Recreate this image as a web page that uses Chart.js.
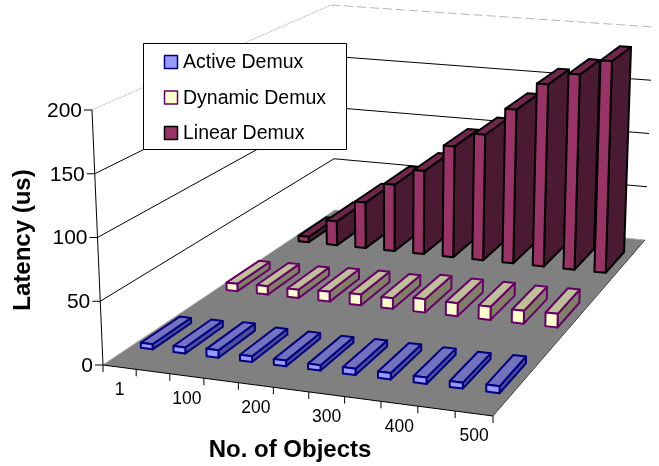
<!DOCTYPE html>
<html>
<head>
<meta charset="utf-8">
<title>Latency vs. No. of Objects</title>
<script src="https://cdn.jsdelivr.net/npm/chart.js@4"></script>
<style>
    html, body { margin: 0; padding: 0; background: #fff; }
    canvas { display: block; }
</style>
</head>
<body>
<canvas id="chart" width="659" height="466"></canvas>
<script>
const objects = ['1', '50', '100', '150', '200', '250', '300', '350', '400', '450', '500'];
const activeDemux = [4.1, 4.8, 5.8, 4.5, 4.4, 4.2, 4.9, 4.9, 4.9, 4.5, 5.3];
const dynamicDemux = [6.3, 7.2, 7.1, 8.4, 9, 8.9, 11.2, 10.9, 11, 10.7, 11.3];
const linearDemux = [5, 22, 42, 61, 76, 101, 114, 139, 164, 175, 189];

// corners of the 3D box on screen: front-left, front-right, back-right, back-left
const floorQuad = [[103, 365], [493, 416], [645, 240], [335, 210]];
const roofQuad = [[92, 110], [497, 143], [653, 27], [331, 5]];
const barDepth = 0.144;
const FONT = '"Liberation Sans", Arial, sans-serif';

function homography(q) {
    const [[x0, y0], [x1, y1], [x2, y2], [x3, y3]] = q;
    const dx1 = x1 - x2, dy1 = y1 - y2, dx2 = x3 - x2, dy2 = y3 - y2;
    const sx = x0 - x1 + x2 - x3, sy = y0 - y1 + y2 - y3;
    const den = dx1 * dy2 - dx2 * dy1;
    const g = (sx * dy2 - dx2 * sy) / den;
    const h = (dx1 * sy - sx * dy1) / den;
    const a = x1 - x0 + g * x1, b = x3 - x0 + h * x3;
    const d = y1 - y0 + g * y1, e = y3 - y0 + h * y3;
    return (u, v) => {
        const n = g * u + h * v + 1;
        return [(a * u + b * v + x0) / n, (d * u + e * v + y0) / n];
    };
}

const floorAt = homography(floorQuad);
const roofAt = homography(roofQuad);

// u along the x axis, v into the picture, w up the value axis, all 0..1
function project(u, v, w) {
    const p = floorAt(u, v), q = roofAt(u, v);
    return [p[0] + (q[0] - p[0]) * w, p[1] + (q[1] - p[1]) * w];
}

function poly(ctx, pts, fill, stroke, lineWidth) {
    ctx.beginPath();
    pts.forEach((p, i) => i ? ctx.lineTo(p[0], p[1]) : ctx.moveTo(p[0], p[1]));
    ctx.closePath();
    if (fill) { ctx.fillStyle = fill; ctx.fill(); }
    if (stroke) { ctx.strokeStyle = stroke; ctx.lineWidth = lineWidth; ctx.lineJoin = 'round'; ctx.stroke(); }
}

function line(ctx, a, b, color, dash) {
    ctx.beginPath();
    ctx.setLineDash(dash || []);
    ctx.moveTo(a[0], a[1]);
    ctx.lineTo(b[0], b[1]);
    ctx.strokeStyle = color;
    ctx.lineWidth = 1;
    ctx.stroke();
    ctx.setLineDash([]);
}

function drawBox(chart, ctx) {
    const xs = chart.scales.x, ys = chart.scales.y;
    const area = chart.chartArea;

    poly(ctx, [project(0, 0, 0), project(1, 0, 0), project(1, 1, 0), project(0, 1, 0)], '#808080');
    line(ctx, project(0, 1, 0), project(1, 1, 0), '#b0b0b0');
    line(ctx, project(0, 0, 0), project(0, 1, 0), '#a0a0a0');
    line(ctx, project(1, 0, 0), project(1, 1, 0), '#404040');

    // value axis, gridlines on both walls
    ctx.textAlign = 'right';
    ctx.textBaseline = 'middle';
    ctx.font = '21px ' + FONT;
    ctx.fillStyle = '#000';
    ys.ticks.forEach(t => {
        const w = (ys.getPixelForValue(t.value) - area.bottom) / (area.top - area.bottom);
        const front = project(0, 0, w), back = project(0, 1, w), right = project(1, 1, w);
        if (w > 0) {
            const top = w >= 1;
            line(ctx, front, back, top ? '#b5b5b5' : '#000', top ? [2, 1] : null);
            line(ctx, back, right, top ? '#b5b5b5' : '#000', top ? [9, 4] : null);
        }
        line(ctx, [front[0] - 8, front[1]], front, '#000');
        ctx.fillText(t.label, front[0] - 10, front[1] + 1);
    });
    line(ctx, project(0, 0, 0), project(0, 0, 1), '#000');

    // category axis along the front floor edge
    line(ctx, project(0, 0, 0), project(1, 0, 0), '#000');
    const n = xs.ticks.length;
    ctx.textAlign = 'center';
    ctx.font = '17.5px ' + FONT;
    for (let i = 0; i <= n; i++) {
        const p = project(i / n, 0, 0);
        line(ctx, p, [p[0], p[1] + 7], '#000');
    }
    xs.ticks.forEach((t, i) => {
        if (!t.label) return;
        const p = project((i + 0.5) / n, 0, 0);
        ctx.fillText(t.label, p[0], p[1] + 23);
    });
}

function drawBars(chart, ctx) {
    const area = chart.chartArea;
    // back row first, and left to right so nearer bars cover the long sides
    for (let d = chart.data.datasets.length - 1; d >= 0; d--) {
        const ds = chart.data.datasets[d];
        const mid = (d + 0.5) / chart.data.datasets.length;
        const v0 = mid - barDepth / 2, v1 = mid + barDepth / 2;
        chart.getDatasetMeta(d).data.forEach(bar => {
            const u0 = (bar.x - bar.width / 2 - area.left) / area.width;
            const u1 = (bar.x + bar.width / 2 - area.left) / area.width;
            const w = (area.bottom - bar.y) / area.height;
            poly(ctx, [project(u1, v0, 0), project(u1, v1, 0), project(u1, v1, w), project(u1, v0, w)], ds.sideColor, ds.borderColor, ds.borderWidth);
            poly(ctx, [project(u0, v0, w), project(u1, v0, w), project(u1, v1, w), project(u0, v1, w)], ds.topColor, ds.borderColor, ds.borderWidth);
            poly(ctx, [project(u0, v0, 0), project(u1, v0, 0), project(u1, v0, w), project(u0, v0, w)], ds.backgroundColor, ds.borderColor, ds.borderWidth);
        });
    }
}

function drawLegend(chart, ctx) {
    ctx.fillStyle = '#fff';
    ctx.fillRect(143.5, 43.5, 203, 106);
    ctx.strokeStyle = '#000';
    ctx.lineWidth = 1;
    ctx.strokeRect(143.5, 43.5, 203, 106);
    ctx.textAlign = 'left';
    ctx.textBaseline = 'middle';
    ctx.font = '19.5px ' + FONT;
    chart.data.datasets.forEach((ds, i) => {
        const y = 55.5 + i * 35.5;
        ctx.fillStyle = ds.backgroundColor;
        ctx.fillRect(164.5, y, 13, 13);
        ctx.strokeStyle = ds.borderColor;
        ctx.lineWidth = 1.5;
        ctx.strokeRect(164.5, y, 13, 13);
        ctx.fillStyle = '#000';
        ctx.fillText(ds.label, 183, y + 7.5);
    });
}

function drawTitles(chart, ctx) {
    ctx.fillStyle = '#000';
    ctx.font = 'bold 24px ' + FONT;
    ctx.textAlign = 'center';
    ctx.textBaseline = 'middle';
    ctx.fillText(chart.options.scales.x.title.text, 290, 450);
    ctx.save();
    ctx.translate(23, 240);
    ctx.rotate(-Math.PI / 2);
    ctx.fillText(chart.options.scales.y.title.text, 0, 0);
    ctx.restore();
}

const box3d = {
    id: 'box3d',
    beforeDatasetsDraw(chart) {
        const ctx = chart.ctx;
        drawBox(chart, ctx);
        drawBars(chart, ctx);
        drawLegend(chart, ctx);
        drawTitles(chart, ctx);
        return false;
    }
};

new Chart(document.getElementById('chart'), {
    type: 'bar',
    data: {
        labels: objects,
        datasets: [
            { label: 'Active Demux', data: activeDemux, backgroundColor: '#9999ff', borderColor: '#000080', topColor: '#7272bf', sideColor: '#4d4d99', borderWidth: 2 },
            { label: 'Dynamic Demux', data: dynamicDemux, backgroundColor: '#ffffcc', borderColor: '#660066', topColor: '#bfbf99', sideColor: '#808066', borderWidth: 2 },
            { label: 'Linear Demux', data: linearDemux, backgroundColor: '#993366', borderColor: '#000000', topColor: '#73264d', sideColor: '#4a1a33', borderWidth: 2 }
        ]
    },
    options: {
        responsive: false,
        animation: false,
        grouped: false,
        barPercentage: 0.36,
        categoryPercentage: 1,
        plugins: { legend: { display: false }, tooltip: { enabled: false } },
        scales: {
            x: {
                display: false,
                title: { text: 'No. of Objects' },
                ticks: { autoSkip: false, callback: function (v, i) { return i % 2 ? '' : objects[i]; } }
            },
            y: {
                display: false,
                min: 0,
                max: 200,
                title: { text: 'Latency (us)' },
                ticks: { stepSize: 50 }
            }
        }
    },
    plugins: [box3d]
});
</script>
</body>
</html>
